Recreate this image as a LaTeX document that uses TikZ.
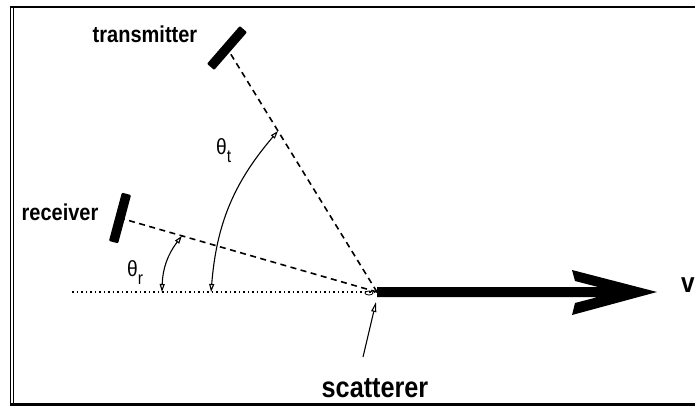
\documentclass[tikz,border=0pt]{standalone}
\usepackage{fontspec}
\setmainfont{Liberation Sans}[FakeStretch=0.87]
\usetikzlibrary{arrows.meta,calc}
\tikzset{
  lbl/.style={font=\fontsize{23}{23}\selectfont\bfseries, inner sep=0pt, anchor=base},
  bigl/.style={font=\fontsize{29}{29}\selectfont\bfseries, inner sep=0pt, anchor=base},
  ang/.style={font=\fontsize{22}{22}\selectfont, inner sep=0pt, anchor=base west},
  bar/.style={fill=black, minimum width=50pt, minimum height=9.5pt, inner sep=0pt, rounded corners=1pt},
  dashline/.style={line width=1.6pt, dash pattern=on 6pt off 4.5pt},
  dotline/.style={line width=1.5pt, dash pattern=on 1.5pt off 3pt},
  anglearc/.style={line width=1.1pt, {Triangle[open,length=8pt,width=5pt]}-{Triangle[open,length=8pt,width=5pt]}},
  pointer/.style={line width=1.1pt, -{Triangle[open,length=10pt,width=5pt]}},
  frameline/.style={line width=2.5pt},
}
\newcommand{\subl}[1]{\raisebox{-8pt}{\fontsize{18}{18}\selectfont #1}}
\begin{document}
\begin{tikzpicture}[x=1pt,y=-1pt]
\useasboundingbox (0,0) rectangle (695,406);
% frame
\draw[frameline] (10,7) -- (695,7);
\draw[frameline] (10,404.5) -- (695,404.5);
\draw[line width=0.9pt] (10.7,6) -- (10.7,405);
\draw[line width=0.9pt] (13.3,6) -- (13.3,405);

% key points
\coordinate (S) at (377,292);
\coordinate (Tc) at (227,48);
\coordinate (Rc) at (120,218);
\coordinate (L) at (72,292);
\coordinate (V) at (657,292);

% lines of sight
\draw[dashline] (S) -- (Tc);
\draw[dashline] (S) -- (Rc);
\draw[dotline] (L) -- (S);

% antennas
\node[bar, rotate=49] (T) at (Tc) {};
\node[bar, rotate=75] (R) at (Rc) {};

% angle arcs
\coordinate (At1) at ($(S)!0.66!(Tc)$);
\coordinate (At2) at ($(S)!0.544!(L)$);
\coordinate (Ar1) at ($(S)!0.759!(Rc)$);
\coordinate (Ar2) at ($(S)!0.705!(L)$);
\draw[anglearc] (At1) to[bend right=18] (At2);
\draw[anglearc] (Ar1) to[bend right=18] (Ar2);

% velocity arrow
\fill (377,287) -- (598,287) -- (575,281) -- (572,270) -- (V) -- (572,315)
      -- (575,303) -- (598,297) -- (377,297) -- cycle;

% scatterer
\draw[line width=0.8pt] (369,293) ellipse (4pt and 2pt);
\coordinate (P) at (363,357);
\draw[pointer] (P) -- (376,302);

% labels
\node[lbl] (tl) at (145,43) {transmitter};
\node[lbl] (rl) at (60,220) {receiver};
\node[bigl] (sl) at (375,397) {scatterer};
\node[bigl, font=\fontsize{28}{28}\selectfont\bfseries] (vl) at (688,292) {v};
\node[ang] (tht) at (216,155) {θ\subl{t}};
\node[ang] (thr) at (127,276) {θ\subl{r}};
\end{tikzpicture}
\end{document}
